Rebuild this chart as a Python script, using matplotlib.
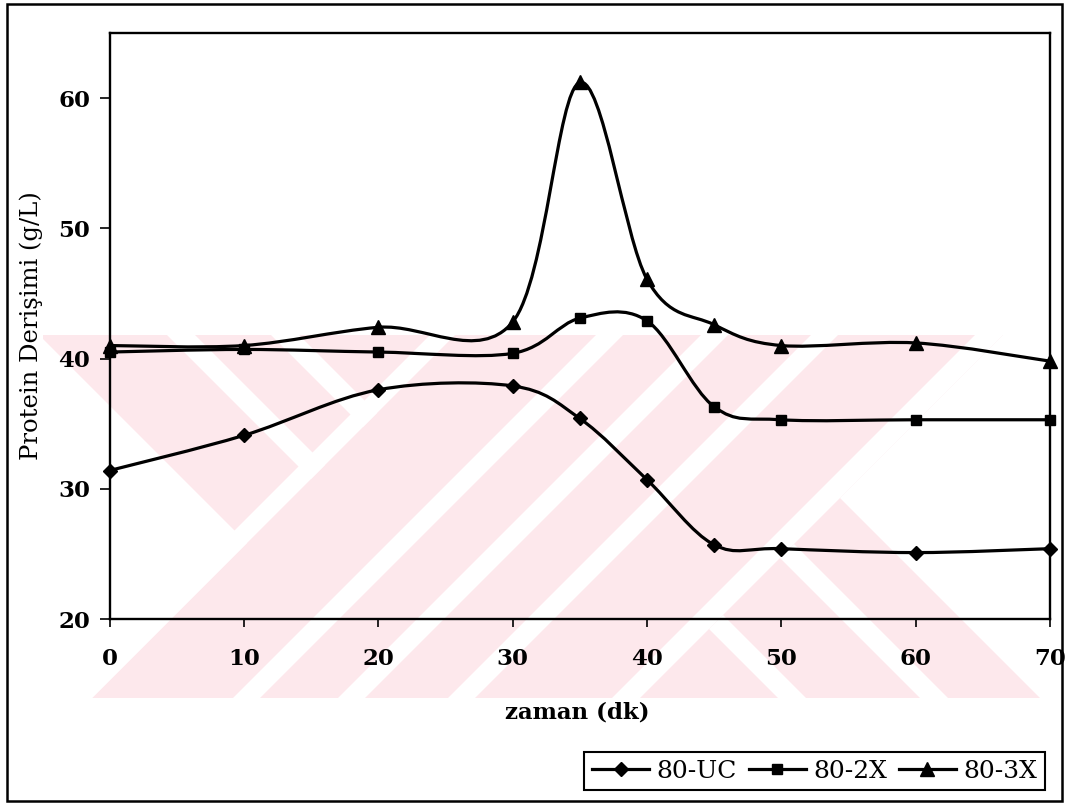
import numpy as np
import matplotlib
matplotlib.use('Agg')
import matplotlib.pyplot as plt
from matplotlib.path import Path
from matplotlib.patches import PathPatch, Polygon, Rectangle
from matplotlib.lines import Line2D

# ölçüm zamanları (dk) ve protein derişimleri (g/L)
zaman = [0, 10, 20, 30, 35, 40, 45, 50, 60, 70]
uc_80 = [31.4, 34.1, 37.6, 37.9, 35.4, 30.7, 25.7, 25.4, 25.1, 25.4]
x2_80 = [40.5, 40.7, 40.5, 40.4, 43.1, 42.9, 36.3, 35.3, 35.3, 35.3]
x3_80 = [41.0, 41.0, 42.4, 42.8, 61.2, 46.1, 42.6, 41.0, 41.2, 39.8]

seriler = ['80-UC', '80-2X', '80-3X']
isaretler = ['D', 's', '^']
boyutlar = [6.8, 7.8, 10.5]

x_ticks = [0, 10, 20, 30, 40, 50, 60, 70]
y_ticks = [20, 30, 40, 50, 60]

W, H = 1065, 807
PEMBE = '#fde8ec'


def excel_egri(xs, ys):
    # Excel'in "düzgünleştirilmiş çizgi" eğrisi: komşu noktalardan kübik Bezier
    p = np.column_stack([xs, ys]).astype(float)
    n = len(p)
    verts = [p[0]]
    codes = [Path.MOVETO]
    for i in range(n - 1):
        p0 = p[i - 1] if i > 0 else p[i]
        p3 = p[i + 2] if i + 2 < n else p[i + 1]
        c1 = p[i] + (p[i + 1] - p0) / 6.0
        c2 = p[i + 1] - (p3 - p[i]) / 6.0
        verts += [c1, c2, p[i + 1]]
        codes += [Path.CURVE4] * 3
    return Path(verts, codes)


fig = plt.figure(figsize=(W / 100, H / 100), dpi=100)

# arka plan: piksel koordinatlı eksen (filigran ve çerçeve)
bg = fig.add_axes([0, 0, 1, 1], zorder=0)
bg.set_xlim(0, W)
bg.set_ylim(H, 0)
bg.axis('off')


def bant(c0, c1, yon):
    if yon == '/':   # c0 <= x + y <= c1
        pts = [(c0 + 3000, -3000), (c0 - 3000, 3000), (c1 - 3000, 3000), (c1 + 3000, -3000)]
    else:            # c0 <= y - x <= c1
        pts = [(-3000 - c0, -3000), (3000 - c0, 3000), (3000 - c1, 3000), (-3000 - c1, -3000)]
    return Polygon(pts, closed=True, fc='white', ec='none', zorder=1)


def yari(c, taraf):
    if taraf == '<':
        pts = [(c + 3000, -3000), (c - 3000, 3000), (-6000, 3000), (-6000, -3000)]
    else:
        pts = [(c + 3000, -3000), (c - 3000, 3000), (6000, 3000), (6000, -3000)]
    return Polygon(pts, closed=True, transform=bg.transData)


bg.add_patch(Rectangle((43, 335), W - 43, 698 - 335, fc=PEMBE, ec='none', zorder=0))

sol = yari(790, '<')
for c0, c1 in [(296, 3000), (140, 168), (36, 64)]:
    s = bg.add_patch(bant(c0, c1, '\\'))
    s.set_clip_path(sol)

for c0, c1 in [(765, 790), (931, 958), (1036, 1063), (1146, 1173), (1310, 1338)]:
    bg.add_patch(bant(c0, c1, '/'))

sag = yari(1338, '>')
for c0, c1 in [(-108, -80), (-250, -222), (-3000, -342)]:
    s = bg.add_patch(bant(c0, c1, '\\'))
    s.set_clip_path(sag)

bg.add_patch(Rectangle((7, 4), 1055, 797, fill=False, ec='black', lw=1.8, zorder=5))

# ana grafik
ax = fig.add_axes([109.5 / W, 1 - 619 / H, (1050 - 109.5) / W, (619 - 33) / H], zorder=1)
ax.patch.set_visible(False)

for y, m, ms in zip([uc_80, x2_80, x3_80], isaretler, boyutlar):
    ax.add_patch(PathPatch(excel_egri(zaman, y), fill=False, ec='black', lw=2.3, zorder=2))
    ax.plot(zaman, y, ls='none', marker=m, ms=ms, color='black', clip_on=False, zorder=3)

ax.set_xlim(0, 70)
ax.set_ylim(20, 65)
ax.set_xticks(x_ticks)
ax.set_yticks(y_ticks)
for sp in ax.spines.values():
    sp.set_linewidth(1.7)

tick_font = dict(family='DejaVu Serif', weight='bold', size=16.5)
ax.set_xticklabels([str(v) for v in x_ticks], fontdict=tick_font)
ax.set_yticklabels([str(v) for v in y_ticks], fontdict=tick_font)
ax.tick_params(axis='x', direction='out', length=6, width=1.2, pad=15)
ax.tick_params(axis='y', direction='out', length=7, width=1.2, pad=7)

fig.text(31 / W, 1 - 326 / H, 'Protein Derişimi (g/L)', rotation=90, ha='center', va='center',
         family='DejaVu Serif', size=17.5)
fig.text(577 / W, 1 - 712 / H, 'zaman (dk)', ha='center', va='center',
         family='DejaVu Serif', weight='bold', size=16.5)

handles = [Line2D([], [], color='black', lw=2.3, marker=m, ms=ms) for m, ms in zip(isaretler, boyutlar)]
leg = fig.legend(handles, seriler, loc='lower right', bbox_to_anchor=(1045 / W, 1 - 790 / H),
                 ncol=3, frameon=True, fancybox=False, edgecolor='black', framealpha=1,
                 prop=dict(family='DejaVu Serif', size=18), handlelength=2.3,
                 handletextpad=0.3, columnspacing=0.45, borderpad=0.3, borderaxespad=0)
leg.get_frame().set_linewidth(1.5)

fig.savefig('out.png', dpi=100)
